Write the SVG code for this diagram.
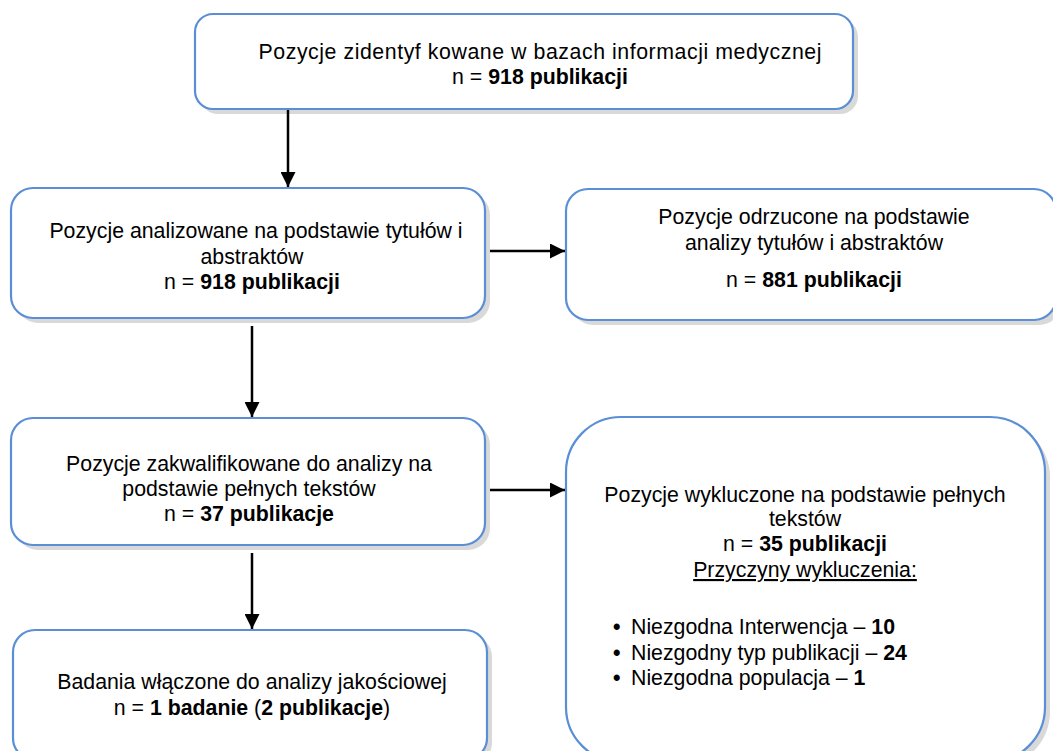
<svg xmlns="http://www.w3.org/2000/svg" width="1053" height="751" viewBox="0 0 1053 751">
<style>
.box{fill:#ffffff;stroke:#5a8fd6;stroke-width:2.2}
.sh{fill:#d9d9d9}
text{font-family:"Liberation Sans",Arial,sans-serif;font-size:21.3px;fill:#000}
.c{text-anchor:middle}
.b{font-weight:bold}
.ln{stroke:#000;stroke-width:2.5;fill:none}
</style>
<defs>
<marker id="ah" viewBox="0 0 10 10" refX="10" refY="5" markerWidth="6" markerHeight="6" markerUnits="strokeWidth" orient="auto">
<path d="M0,0 L10,5 L0,10 Z" fill="#000"/>
</marker>
</defs>
<rect width="1053" height="751" fill="#fff"/>
<g id="n1">
<rect class="sh" x="200" y="19" width="658" height="95" rx="18"/>
<rect class="box" x="195" y="14" width="658" height="95" rx="18"/>
<text class="c" x="540" y="59" textLength="563" lengthAdjust="spacing">Pozycje zidentyf kowane w bazach informacji medycznej</text>
<text class="c" x="540" y="84">n = <tspan class="b">918 publikacji</tspan></text>
</g>
<g id="n2">
<rect class="sh" x="16" y="193" width="474" height="130" rx="22"/>
<rect class="box" x="11" y="188" width="474" height="130" rx="22"/>
<text class="c" x="256" y="238">Pozycje analizowane na podstawie tytułów i</text>
<text class="c" x="252" y="264">abstraktów</text>
<text class="c" x="252" y="289">n = <tspan class="b">918 publikacji</tspan></text>
</g>
<g id="n3">
<rect class="sh" x="571" y="194" width="490" height="131" rx="22"/>
<rect class="box" x="566" y="189" width="490" height="131" rx="22"/>
<text class="c" x="814" y="224">Pozycje odrzucone na podstawie</text>
<text class="c" x="814" y="250">analizy tytułów i abstraktów</text>
<text class="c" x="814" y="287">n = <tspan class="b">881 publikacji</tspan></text>
</g>
<g id="n4">
<rect class="sh" x="16" y="423" width="474" height="127" rx="22"/>
<rect class="box" x="11" y="418" width="474" height="127" rx="22"/>
<text class="c" x="249" y="471">Pozycje zakwalifikowane do analizy na</text>
<text class="c" x="249" y="496">podstawie pełnych tekstów</text>
<text class="c" x="249" y="521">n = <tspan class="b">37 publikacje</tspan></text>
</g>
<g id="n5">
<rect class="sh" x="18" y="635" width="474" height="130" rx="22"/>
<rect class="box" x="13" y="630" width="474" height="130" rx="22"/>
<text class="c" x="252" y="689">Badania włączone do analizy jakościowej</text>
<text class="c" x="252" y="715">n = <tspan class="b">1 badanie</tspan> (<tspan class="b">2 publikacje</tspan>)</text>
</g>
<g id="n6">
<rect class="sh" x="571" y="422" width="479" height="345" rx="55"/>
<rect class="box" x="566" y="417" width="479" height="345" rx="55"/>
<text class="c" x="805" y="502">Pozycje wykluczone na podstawie pełnych</text>
<text class="c" x="805" y="526">tekstów</text>
<text class="c" x="805" y="551">n = <tspan class="b">35 publikacji</tspan></text>
<text class="c" x="805" y="577" text-decoration="underline">Przyczyny wykluczenia:</text>
<text x="613" y="634"><tspan class="b">•</tspan><tspan x="631">Niezgodna Interwencja – </tspan><tspan class="b">10</tspan></text>
<text x="613" y="660"><tspan class="b">•</tspan><tspan x="631">Niezgodny typ publikacji – </tspan><tspan class="b">24</tspan></text>
<text x="613" y="685"><tspan class="b">•</tspan><tspan x="631">Niezgodna populacja – </tspan><tspan class="b">1</tspan></text>
</g>
<g id="connectors">
<line class="ln" x1="288" y1="110" x2="288" y2="187" marker-end="url(#ah)"/>
<line class="ln" x1="490" y1="251" x2="565" y2="251" marker-end="url(#ah)"/>
<line class="ln" x1="252" y1="326" x2="252" y2="417" marker-end="url(#ah)"/>
<line class="ln" x1="490" y1="490" x2="565" y2="490" marker-end="url(#ah)"/>
<line class="ln" x1="252" y1="553" x2="252" y2="629" marker-end="url(#ah)"/>
</g>
</svg>
